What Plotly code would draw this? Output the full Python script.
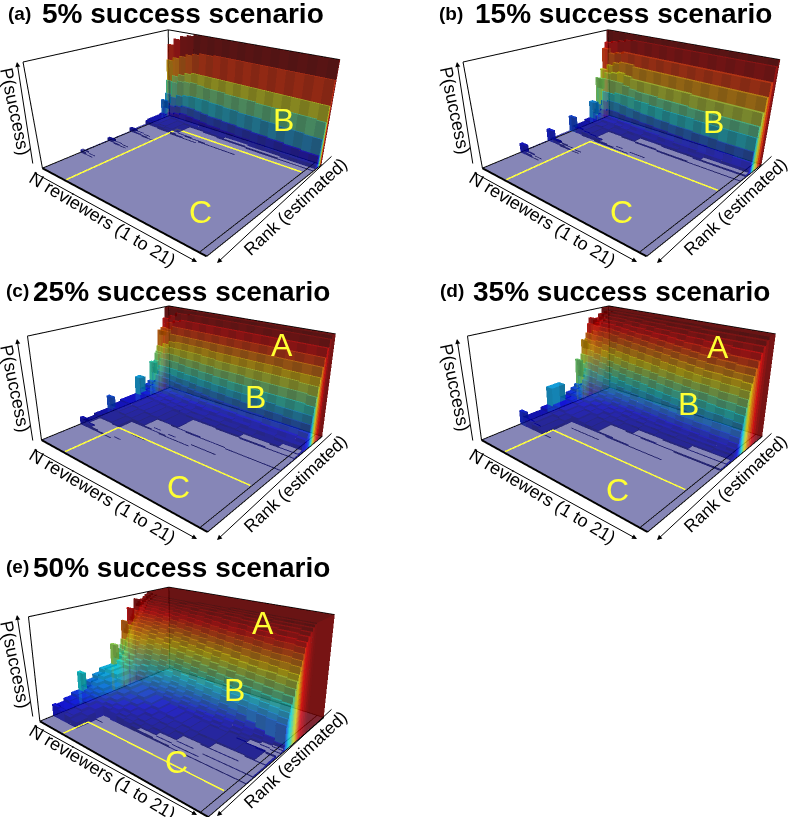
"""Five 3D panels: P(success) against N reviewers and estimated rank."""

import plotly.graph_objects as go
from plotly.colors import sample_colorscale, unlabel_rgb

WIDTH, HEIGHT = 790, 817

SCENARIOS = ["5%", "15%", "25%", "35%", "50%"]
PANEL_TAGS = ["(a)", "(b)", "(c)", "(d)", "(e)"]
N_REVIEWERS = list(range(1, 22))

# rank position of each wall, P(success) in % for N = 1, 2, ... (missing = 0)
ranks_a = [25, 27, 45, 47, 63, 65, 77, 79, 90, 92, 93.5, 95, 96, 97, 98, 99]
p_a = [
    [3, 1],
    [1],
    [4, 2, 1],
    [1, 1],
    [5, 3, 2, 1],
    [2, 2, 1, 1],
    [6, 6, 5, 4, 3, 2, 1, 1],
    [7, 7, 6, 5, 4, 3, 3, 2, 2, 1, 1, 1, 1],
    [8, 9, 8, 7, 6, 6, 5, 5, 4, 4, 3, 3, 3, 2, 2, 2, 2, 1, 1, 1, 1],
    [24, 10, 12, 14, 13, 12, 11, 10, 10, 9, 9, 8, 8, 7, 7, 6, 6, 6, 5, 5, 5],
    [14, 18, 20, 22, 22, 21, 20, 19, 19, 18, 18, 17, 17, 16, 16, 15, 15, 14, 14, 13, 13],
    [20, 28, 32, 34, 35, 35, 35, 34, 34, 33, 33, 32, 32, 32, 31, 31, 30, 30, 30, 29, 29],
    [30, 45, 48, 49, 50, 49, 48, 48, 48, 47, 47, 47, 47, 46, 46, 46, 46, 46, 46, 46, 45],
    [45, 52, 55, 58, 60, 60, 60, 60, 60, 60, 60, 60, 60, 60, 60, 60, 60, 60, 60, 60, 60],
    [68, 72, 75, 78, 80, 82, 82, 83, 83, 83, 83, 83, 83, 83, 83, 83, 83, 83, 83, 83, 83],
    [85, 92, 96, 98, 100, 100, 100, 100, 100, 100, 100, 100, 100, 100, 100, 100, 100, 100, 100, 100, 100],
]

ranks_b = [25, 27, 45, 47, 63, 65, 76, 81, 84, 85.5, 86.5, 87.5, 88.5, 90, 92, 94, 96.5, 98.5]
p_b = [
    [10, 3, 1],
    [1, 1],
    [14, 5, 3, 2, 1],
    [2, 2, 1, 1],
    [19, 8, 6, 5, 4, 3, 2, 1, 1],
    [6, 6, 5, 4, 3, 3, 2, 2, 1, 1, 1],
    [8, 8, 7, 6, 5, 5, 4, 4, 3, 3, 3, 2, 2, 2, 2, 1, 1, 1, 1, 1, 1],
    [27, 12, 10, 10, 9, 8, 7, 7, 6, 6, 5, 5, 5, 4, 4, 4, 3, 3, 3, 3, 3],
    [12, 13, 13, 13, 12, 12, 11, 11, 10, 10, 9, 9, 8, 8, 8, 7, 7, 7, 6, 6, 6],
    [16, 18, 20, 20, 19, 18, 18, 17, 17, 16, 16, 15, 15, 14, 14, 14, 13, 13, 13, 12, 12],
    [22, 28, 30, 30, 29, 28, 27, 26, 26, 25, 25, 24, 24, 24, 23, 23, 23, 22, 22, 22, 22],
    [52, 38, 38, 40, 40, 40, 38, 38, 37, 37, 36, 36, 36, 36, 35, 35, 35, 35, 35, 35, 35],
    [40, 52, 52, 52, 50, 48, 47, 47, 47, 46, 46, 46, 46, 45, 45, 45, 45, 45, 45, 45, 45],
    [50, 58, 60, 62, 60, 58, 58, 58, 58, 58, 58, 58, 58, 57, 57, 57, 57, 57, 57, 57, 57],
    [60, 66, 70, 72, 72, 70, 70, 70, 70, 70, 70, 70, 70, 70, 70, 70, 70, 70, 70, 70, 70],
    [82, 78, 80, 82, 82, 82, 82, 82, 82, 82, 82, 82, 82, 82, 82, 82, 82, 82, 82, 82, 82],
    [88, 90, 92, 94, 95, 95, 95, 95, 95, 95, 95, 95, 95, 95, 95, 95, 95, 95, 95, 95, 95],
    [100, 100, 100, 100, 100, 100, 100, 100, 100, 100, 100, 100, 100, 100, 100, 100, 100, 100, 100, 100, 100],
]

ranks_c = [25, 27, 35, 45, 47, 55, 68, 72, 76, 79, 81, 83, 84, 85, 86, 87, 88, 89, 90.5, 92, 94, 96]
p_c = [
    [8, 4, 3, 2, 1],
    [4, 3, 3, 2, 1, 1],
    [6, 5, 5, 4, 1, 1, 1, 1],
    [20, 8, 7, 6, 5, 4, 3, 2, 2, 1, 1, 1],
    [8, 8, 7, 6, 5, 4, 3, 3, 2, 2, 1, 1, 1, 1, 1],
    [10, 10, 9, 8, 7, 6, 5, 4, 4, 3, 3, 3, 2, 2, 2, 1, 1, 1, 1, 1, 1],
    [30, 13, 12, 11, 10, 9, 8, 7, 6, 6, 5, 5, 4, 4, 4, 3, 3, 3, 2, 2, 2],
    [14, 15, 14, 13, 12, 11, 10, 9, 8, 8, 7, 7, 6, 6, 5, 5, 4, 4, 4, 3, 3],
    [17, 18, 18, 17, 16, 15, 14, 13, 12, 11, 11, 10, 10, 9, 9, 8, 8, 8, 7, 7, 7],
    [20, 22, 22, 21, 20, 19, 18, 17, 16, 15, 15, 14, 14, 13, 13, 13, 12, 12, 12, 12, 11],
    [42, 28, 27, 26, 25, 24, 23, 22, 21, 20, 20, 19, 19, 18, 18, 18, 17, 17, 17, 17, 16],
    [28, 32, 32, 31, 30, 30, 29, 28, 28, 27, 27, 26, 26, 25, 25, 24, 24, 24, 23, 23, 23],
    [34, 38, 38, 38, 37, 36, 36, 35, 35, 34, 34, 33, 33, 33, 32, 32, 32, 31, 31, 31, 31],
    [42, 46, 46, 46, 45, 44, 44, 43, 43, 42, 42, 41, 41, 41, 40, 40, 40, 40, 40, 40, 39],
    [50, 52, 53, 53, 52, 52, 52, 51, 51, 50, 50, 50, 50, 49, 49, 49, 49, 49, 49, 49, 48],
    [52, 58, 60, 60, 60, 60, 60, 59, 59, 58, 58, 58, 58, 58, 58, 58, 58, 58, 58, 57, 57],
    [58, 62, 66, 67, 67, 67, 67, 67, 66, 66, 66, 66, 66, 66, 66, 66, 66, 65, 65, 65, 65],
    [76, 76, 74, 74, 74, 74, 74, 74, 74, 74, 74, 74, 74, 74, 74, 74, 74, 74, 74, 74, 74],
    [70, 78, 82, 82, 82, 82, 82, 82, 82, 82, 82, 82, 82, 82, 82, 82, 82, 82, 82, 82, 82],
    [78, 85, 88, 90, 90, 90, 90, 90, 90, 90, 90, 90, 90, 90, 90, 90, 90, 90, 90, 90, 90],
    [88, 92, 96, 96, 97, 97, 97, 97, 97, 97, 97, 97, 97, 97, 97, 97, 97, 97, 97, 97, 97],
    [100, 100, 100, 100, 100, 100, 100, 100, 100, 100, 100, 100, 100, 100, 100, 100, 100, 100, 100, 100, 100],
]

ranks_d = [25, 27, 40, 45, 55, 60, 64, 67, 69, 70.5, 71.5, 72.5, 73.5, 74.5, 75.5, 76.5, 77.5, 78.5, 80, 81.5, 83.5, 85.5, 87.5, 90, 93]
p_d = [
    [15, 8, 6, 4, 1],
    [7, 7, 5, 4, 1],
    [10, 9, 8, 6, 1, 1, 1, 1, 1],
    [30, 12, 11, 9, 8, 6, 5, 4, 3, 3, 2, 2, 1, 1, 1, 1],
    [13, 14, 13, 12, 10, 9, 7, 6, 5, 4, 4, 3, 3, 3, 2, 2, 2, 2, 2, 2, 2],
    [16, 17, 16, 15, 13, 11, 10, 8, 7, 6, 6, 5, 5, 4, 4, 4, 4, 3, 3, 3, 3],
    [19, 20, 19, 18, 16, 14, 12, 11, 10, 9, 8, 7, 7, 6, 6, 5, 5, 5, 5, 4, 4],
    [22, 24, 23, 22, 20, 18, 16, 14, 13, 12, 11, 10, 9, 9, 8, 8, 7, 7, 7, 6, 6],
    [50, 28, 27, 26, 24, 22, 20, 19, 17, 16, 15, 14, 13, 12, 12, 11, 11, 10, 10, 10, 9],
    [30, 33, 33, 31, 29, 27, 25, 24, 22, 21, 20, 19, 18, 17, 16, 16, 15, 15, 14, 14, 13],
    [36, 40, 39, 37, 35, 33, 31, 29, 28, 26, 25, 24, 23, 22, 21, 21, 20, 20, 19, 19, 18],
    [44, 47, 46, 44, 42, 39, 37, 35, 34, 33, 32, 31, 30, 29, 28, 27, 27, 26, 25, 25, 24],
    [54, 54, 52, 50, 48, 46, 44, 42, 41, 40, 38, 37, 36, 35, 34, 33, 33, 32, 32, 31, 30],
    [70, 60, 58, 56, 54, 52, 50, 49, 48, 47, 46, 44, 43, 42, 41, 40, 40, 39, 38, 38, 37],
    [60, 66, 65, 63, 61, 59, 57, 56, 55, 54, 53, 51, 50, 49, 48, 47, 47, 46, 45, 45, 44],
    [66, 70, 71, 69, 67, 65, 64, 63, 62, 61, 60, 58, 57, 56, 55, 54, 54, 53, 52, 52, 51],
    [70, 76, 76, 75, 73, 72, 71, 70, 69, 68, 67, 65, 64, 63, 62, 61, 60, 60, 59, 59, 58],
    [76, 80, 81, 81, 80, 78, 77, 76, 75, 74, 73, 72, 70, 69, 68, 67, 66, 66, 65, 65, 64],
    [86, 85, 85, 85, 84, 83, 82, 81, 80, 79, 78, 77, 76, 75, 74, 73, 72, 72, 71, 70, 70],
    [92, 88, 89, 89, 88, 87, 86, 85, 85, 84, 83, 82, 81, 80, 79, 78, 78, 77, 77, 76, 76],
    [84, 90, 92, 92, 92, 91, 90, 90, 89, 88, 88, 87, 86, 85, 85, 84, 83, 83, 82, 82, 82],
    [88, 93, 95, 95, 95, 94, 94, 93, 93, 92, 92, 91, 91, 90, 90, 89, 89, 89, 88, 88, 88],
    [90, 96, 97, 97, 97, 97, 97, 96, 96, 96, 95, 95, 95, 94, 94, 94, 93, 93, 93, 93, 93],
    [94, 98, 99, 99, 99, 99, 99, 99, 98, 98, 98, 98, 98, 98, 97, 97, 97, 97, 97, 97, 97],
    [100, 100, 100, 100, 100, 100, 100, 100, 100, 100, 100, 100, 100, 100, 100, 100, 100, 100, 100, 100, 100],
]

ranks_e = [8, 10, 15, 20, 25, 27, 30, 35, 40, 49, 51, 53, 55, 56, 57, 58, 59, 60, 61.5, 63, 64, 65.5, 66.5, 67.5, 68.5, 69.5, 70.5, 72, 74, 76, 78, 80]
p_e = [
    [12, 10, 8, 6],
    [11, 11, 9, 6],
    [14, 13, 11, 8],
    [17, 16, 14, 11, 1],
    [36, 19, 17, 14, 11, 9, 7, 6, 4, 3, 3, 2, 2, 1, 1, 1, 1, 1, 1, 1, 1],
    [20, 22, 20, 17, 14, 12, 9, 7, 6, 5, 4, 3, 3, 2, 2, 2, 1, 1, 1, 1, 1],
    [24, 26, 23, 20, 17, 14, 12, 10, 8, 7, 6, 5, 4, 3, 3, 2, 2, 2, 2, 2, 2],
    [28, 30, 27, 24, 20, 17, 15, 13, 11, 9, 8, 7, 6, 5, 4, 4, 3, 3, 3, 2, 2],
    [32, 34, 32, 28, 24, 21, 19, 16, 14, 12, 11, 9, 8, 7, 6, 6, 5, 5, 4, 4, 3],
    [54, 38, 36, 32, 29, 25, 22, 20, 18, 16, 14, 12, 11, 10, 8, 7, 5, 4, 3, 2, 1],
    [38, 42, 40, 37, 33, 30, 27, 24, 22, 20, 18, 16, 14, 13, 11, 9, 7, 5, 3, 2, 1],
    [42, 46, 45, 42, 38, 34, 31, 28, 26, 24, 21, 20, 18, 17, 15, 13, 10, 7, 5, 3, 2],
    [46, 50, 50, 47, 43, 39, 36, 33, 30, 28, 26, 24, 22, 21, 19, 17, 14, 11, 8, 5, 3],
    [50, 55, 54, 52, 48, 44, 41, 38, 35, 33, 31, 29, 27, 26, 24, 22, 20, 16, 12, 9, 6],
    [56, 59, 59, 56, 53, 50, 46, 43, 41, 38, 36, 34, 33, 31, 30, 28, 27, 26, 25, 24, 23],
    [76, 63, 63, 61, 58, 55, 51, 48, 46, 44, 42, 40, 38, 36, 35, 34, 32, 31, 30, 29, 28],
    [62, 67, 67, 66, 63, 60, 57, 54, 51, 49, 47, 45, 43, 42, 40, 39, 37, 36, 35, 34, 33],
    [66, 71, 71, 70, 68, 65, 62, 59, 57, 55, 53, 51, 49, 47, 46, 44, 43, 42, 41, 40, 39],
    [70, 74, 75, 74, 72, 70, 67, 65, 62, 60, 58, 57, 55, 53, 52, 50, 49, 48, 47, 46, 45],
    [88, 77, 78, 78, 76, 74, 71, 69, 67, 65, 63, 62, 60, 58, 57, 56, 55, 54, 53, 52, 51],
    [74, 80, 81, 81, 79, 78, 76, 73, 71, 70, 68, 66, 65, 64, 62, 61, 60, 59, 59, 58, 57],
    [77, 83, 84, 84, 83, 81, 79, 77, 76, 74, 73, 71, 70, 69, 68, 66, 65, 65, 64, 63, 62],
    [80, 85, 87, 87, 86, 85, 83, 82, 80, 79, 77, 76, 75, 74, 73, 72, 71, 70, 69, 69, 68],
    [84, 88, 90, 90, 89, 88, 87, 85, 84, 83, 82, 81, 80, 79, 78, 77, 76, 75, 74, 74, 73],
    [96, 90, 92, 92, 92, 91, 90, 89, 88, 87, 86, 85, 84, 83, 82, 82, 81, 80, 79, 79, 78],
    [88, 93, 94, 95, 94, 94, 93, 92, 91, 91, 90, 89, 88, 87, 87, 86, 85, 85, 84, 84, 83],
    [90, 95, 96, 96, 96, 96, 95, 95, 94, 94, 93, 93, 92, 91, 91, 90, 89, 89, 88, 88, 87],
    [92, 96, 98, 98, 98, 98, 97, 97, 97, 96, 96, 96, 95, 95, 94, 94, 93, 93, 92, 92, 91],
    [94, 98, 99, 99, 99, 99, 99, 98, 98, 98, 98, 97, 97, 97, 96, 96, 96, 95, 95, 95, 94],
    [96, 99, 100, 100, 100, 100, 100, 100, 99, 99, 99, 99, 98, 98, 98, 98, 98, 97, 97, 97, 97],
    [98, 100, 100, 100, 100, 100, 100, 100, 100, 100, 100, 100, 99, 99, 99, 99, 99, 99, 99, 99, 99],
    [100, 100, 100, 100, 100, 100, 100, 100, 100, 100, 100, 100, 100, 100, 100, 100, 100, 100, 100, 100, 100],
]

# yellow frame of region C: lowest N and rank threshold
yellow_n = [4.5, 4.5, 4.5, 4.5, 4.5]
yellow_rank = [84, 60, 35, 31, 15]

RANKS = [ranks_a, ranks_b, ranks_c, ranks_d, ranks_e]
VALUES = [p_a, p_b, p_c, p_d, p_e]

# panel offsets in pixels and text positions
OFFSETS = [(0, 0), (440, 0), (0, 277), (440, 277), (0, 553)]
TITLE_X = [40, 473, 31, 471, 31]
TAG_X = [6, 437, 4, 438, 4]
LETTERS = [
    [("C", 200, 212), ("B", 283, 120)],
    [("C", 621, 212), ("B", 713, 122)],
    [("A", 282, 345), ("B", 255, 397), ("C", 178, 487)],
    [("A", 718, 347), ("B", 688, 404), ("C", 617, 490)],
    [("A", 263, 623), ("B", 235, 690), ("C", 176, 762)],
]
# scene box height, its top edge and the camera aim; the boxes cannot leave the page
SCENE_H = 360
SCENE_TOP = [0, 0, 209, 209, 457]
AIM_Z = [-0.36, -0.36, 0, 0, 0.17]
SCENE_X = [(0, 366), (456, 790), (0, 366), (456, 790), (0, 366)]

JET = [
    [0.0, "#00007F"], [0.125, "#0000FF"], [0.25, "#007FFF"], [0.375, "#00FFFF"], [0.5, "#7FFF7F"],
    [0.625, "#FFFF00"], [0.75, "#FF7F00"], [0.875, "#FF0000"], [1.0, "#7F0000"],
]
FLOOR = "rgb(88,88,155)"
FONT = "Liberation Sans"
N_MIN, N_MAX = 0.5, 21.5
LEVELS = [sample_colorscale(JET, [v / 100])[0] for v in range(101)]


def shaded(level, shade):
    r, g, b = unlabel_rgb(LEVELS[int(round(level))])
    return f"rgb({r * shade:.0f},{g * shade:.0f},{b * shade:.0f})"


def px(x, y):
    return x / WIDTH, 1 - y / HEIGHT


def build_mesh(ranks, rows):
    """Stepped surface as quads, far faces first so the alpha blends over them."""
    edges = [0] + list(ranks) + [100]
    grid = [[0] * 21] + [row + [0] * (21 - len(row)) for row in rows]
    xs, ys, zs, ii, jj, kk, colors = [], [], [], [], [], [], []

    def quad(pts, color):
        base = len(xs)
        for x, y, z in pts:
            xs.append(x)
            ys.append(y)
            zs.append(z)
        ii.extend([base, base])
        jj.extend([base + 1, base + 2])
        kk.extend([base + 2, base + 3])
        colors.extend([color, color])

    # closing wall at the best rank, then the floor under everything
    for c, n in enumerate(N_REVIEWERS):
        h = grid[-1][c]
        quad([(n - 0.5, 100, 0), (n + 0.5, 100, 0), (n + 0.5, 100, h), (n - 0.5, 100, h)], shaded(h, 0.45))
    quad([(N_MIN, 0, 0), (N_MAX, 0, 0), (N_MAX, 100, 0), (N_MIN, 100, 0)], FLOOR)

    for r in range(len(grid) - 1, -1, -1):
        row = grid[r]
        y0, y1 = edges[r], edges[r + 1]
        for c, n in enumerate(N_REVIEWERS):
            h = row[c]
            x0, x1 = n - 0.5, n + 0.5
            if c == 0 and h:
                quad([(x0, y0, 0), (x0, y1, 0), (x0, y1, h), (x0, y0, h)], shaded(h, 0.95))
            if h > 3:
                quad([(x0, y0, h), (x1, y0, h), (x1, y1, h), (x0, y1, h)], shaded(h, 0.8))
            # wall towards the next N, only the outer one is lit
            nxt = row[c + 1] if c < 20 else 0
            if nxt != h and (c == 20 or max(nxt, h) > 3):
                shade = 0.95 if c == 20 else 0.6
                quad([(x1, y0, nxt), (x1, y1, nxt), (x1, y1, h), (x1, y0, h)], shaded(max(nxt, h), shade))
            # wall facing the viewer, towards the previous rank
            prev = grid[r - 1][c] if r else 0
            if prev != h:
                quad([(x0, y0, prev), (x1, y0, prev), (x1, y0, h), (x0, y0, h)],
                     shaded(max(prev, h), 0.55 + 0.07 * (c % 2)))
    return xs, ys, zs, ii, jj, kk, colors


fig = go.Figure()
annotations = []

for idx, (ranks, rows) in enumerate(zip(RANKS, VALUES)):
    dx, dy = OFFSETS[idx]
    scene = "scene" if idx == 0 else f"scene{idx + 1}"

    xs, ys, zs, ii, jj, kk, colors = build_mesh(ranks, rows)
    fig.add_trace(go.Mesh3d(
        x=xs, y=ys, z=zs, i=ii, j=jj, k=kk,
        facecolor=colors,
        opacity=0.72, flatshading=True,
        lighting=dict(ambient=1, diffuse=0, specular=0, roughness=1, fresnel=0),
        hoverinfo="skip", scene=scene,
    ))

    # box edges
    box_x = [N_MIN, N_MIN, None, N_MIN, N_MIN, None, N_MIN, N_MIN, None, N_MIN, N_MAX, None, N_MAX, N_MAX, N_MIN, N_MIN, None, N_MAX - 0.7, N_MAX - 0.7]
    box_y = [0, 0, None, 0, 100, None, 100, 100, None, 100, 100, None, 0, 100, 100, 0, None, 0, 100]
    box_z = [0, 100, None, 100, 100, None, 100, 0, None, 100, 100, None, 0, 0, 0, 0, None, 0, 0]
    fig.add_trace(go.Scatter3d(
        x=box_x, y=box_y, z=box_z, mode="lines",
        line=dict(color="black", width=2), hoverinfo="skip", showlegend=False, scene=scene,
    ))
    fig.add_trace(go.Scatter3d(
        x=[N_MIN, N_MAX], y=[0, 0], z=[0, 0], mode="lines",
        line=dict(color="black", width=4), hoverinfo="skip", showlegend=False, scene=scene,
    ))

    # yellow frame round region C
    yn, yr = yellow_n[idx], yellow_rank[idx]
    fig.add_trace(go.Scatter3d(
        x=[yn, yn, N_MAX - 0.7], y=[0, yr, yr], z=[1.5, 1.5, 1.5], mode="lines",
        line=dict(color="#FFFF33", width=3), hoverinfo="skip", showlegend=False, scene=scene,
    ))

    top = SCENE_TOP[idx]
    left, right = SCENE_X[idx]
    fig.update_layout({scene: dict(
        domain=dict(x=[left / WIDTH, right / WIDTH],
                    y=[1 - (top + SCENE_H) / HEIGHT, 1 - top / HEIGHT]),
        xaxis=dict(visible=False, range=[N_MIN - 0.1, N_MAX + 0.1]),
        yaxis=dict(visible=False, range=[-0.5, 100.5]),
        zaxis=dict(visible=False, range=[-0.5, 100.5]),
        aspectmode="manual",
        aspectratio=dict(x=1.10, y=1.0, z=0.56),
        camera=dict(eye=dict(x=1.32, y=-1.535, z=0.80), up=dict(x=0, y=0, z=1),
                    center=dict(x=0, y=0, z=AIM_Z[idx])),
    )})

    # titles
    tx, ty = px(TITLE_X[idx], dy + 14)
    annotations.append(dict(
        x=tx, y=ty, xref="paper", yref="paper", xanchor="left", yanchor="middle", showarrow=False,
        text=f"<b>{SCENARIOS[idx]} success scenario</b>", font=dict(family=FONT, size=28, color="black"),
    ))
    tx, ty = px(TAG_X[idx], dy + 13)
    annotations.append(dict(
        x=tx, y=ty, xref="paper", yref="paper", xanchor="left", yanchor="middle", showarrow=False,
        text=f"<b>{PANEL_TAGS[idx]}</b>", font=dict(family=FONT, size=19, color="black"),
    ))

    # axis labels
    for label, cx, cy, angle, size in [
        ("N reviewers (1 to 21)", 102, 219, 31, 18),
        ("Rank (estimated)", 295, 207, -43, 17.5),
        ("P(success)", 15, 111, 78, 18),
    ]:
        tx, ty = px(dx + cx, dy + cy)
        annotations.append(dict(
            x=tx, y=ty, xref="paper", yref="paper", xanchor="center", yanchor="middle", showarrow=False,
            text=label, textangle=angle, font=dict(family=FONT, size=size, color="black"),
        ))

    # axis arrows
    for hx, hy, tailx, taily in [(197, 262, 33, 172), (217, 263, 333, 155), (17, 62, 33, 165)]:
        tx, ty = px(dx + hx, dy + hy)
        annotations.append(dict(
            x=tx, y=ty, xref="paper", yref="paper", text="", showarrow=True,
            ax=tailx - hx, ay=taily - hy, arrowhead=2, arrowsize=1, arrowwidth=1, arrowcolor="black",
        ))

    for letter, lx, ly in LETTERS[idx]:
        tx, ty = px(lx, ly)
        annotations.append(dict(
            x=tx, y=ty, xref="paper", yref="paper", xanchor="center", yanchor="middle", showarrow=False,
            text=letter, font=dict(family=FONT, size=32, color="#FFFF33"),
        ))

fig.update_layout(
    width=WIDTH, height=HEIGHT,
    margin=dict(l=0, r=0, t=0, b=0),
    paper_bgcolor="white",
    showlegend=False,
    annotations=annotations,
)

fig.write_html("out.html", config=dict(displayModeBar=False), post_script="document.body.style.margin='0';")
